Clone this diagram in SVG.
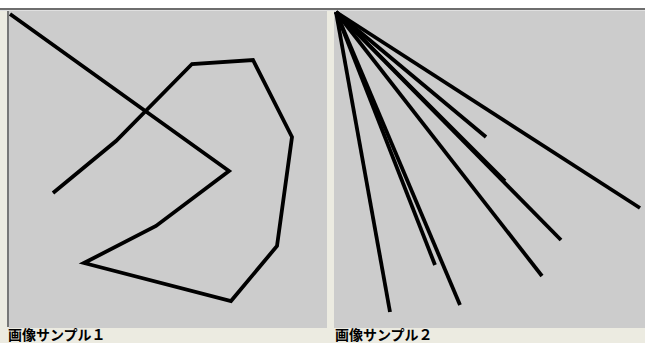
<svg xmlns="http://www.w3.org/2000/svg" width="645" height="343" viewBox="0 0 645 343">
<style>
.bg{fill:#ecebe1}
.panel{fill:#cccccc}
.ln{fill:none;stroke:#000;stroke-width:3.8;stroke-linejoin:miter;stroke-linecap:butt}
.lbl{font-family:"Noto Sans CJK JP","Liberation Sans",sans-serif;font-size:14px;font-weight:bold;fill:#000}
</style>
<rect x="0" y="0" width="645" height="343" class="bg"/>
<rect x="0" y="0" width="645" height="8" fill="#ffffff"/>
<rect x="0" y="8" width="645" height="2" fill="#6e6e6e"/>
<rect x="0" y="10" width="645" height="1" fill="#e0e0e0"/>
<g id="panel1">
<rect x="7" y="11" width="2" height="316" fill="#777"/>
<rect x="9" y="11" width="318" height="317" class="panel"/>
<polyline class="ln" points="10,14 229,171 156,226 84,263 231,301 277,246 292,137 253,60 192,64 116,141 53,193"/>
<text class="lbl" x="8" y="340">画像サンプル１</text>
</g>
<g id="panel2">
<rect x="334" y="11" width="311" height="317" class="panel"/>
<g class="ln">
<line x1="336" y1="12" x2="390" y2="312"/>
<line x1="336" y1="12" x2="435" y2="265"/>
<line x1="336" y1="12" x2="460" y2="305"/>
<line x1="336" y1="12" x2="486" y2="137"/>
<line x1="336" y1="12" x2="505" y2="181"/>
<line x1="336" y1="12" x2="542" y2="276"/>
<line x1="336" y1="12" x2="561" y2="240"/>
<line x1="336" y1="12" x2="640" y2="208"/>
</g>
<text class="lbl" x="335" y="340">画像サンプル２</text>
</g>
</svg>
